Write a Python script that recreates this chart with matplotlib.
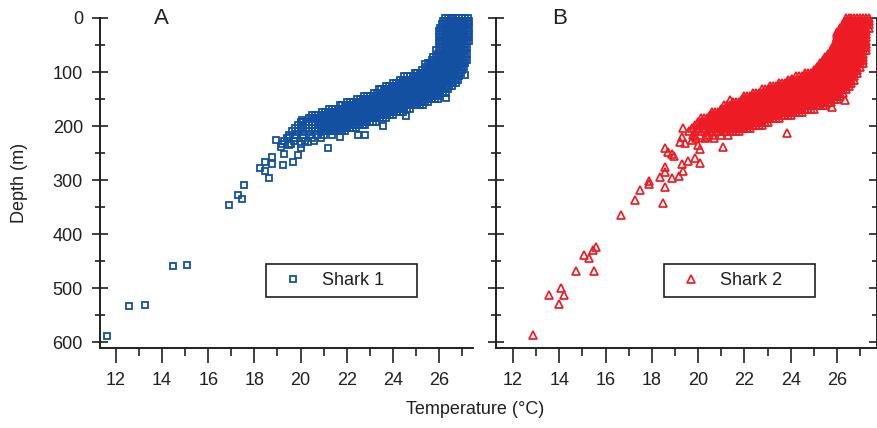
import matplotlib
matplotlib.use('Agg')
import matplotlib.pyplot as plt
from matplotlib.ticker import MultipleLocator

plt.rcParams['font.family'] = ['Liberation Sans', 'DejaVu Sans']

INK = '#231f20'
BLUE = '#1350a2'
RED = '#ed1c24'

# Shark 1, dense band: one row of temperatures for each depth
shark1_band_depth = [0, 6, 12, 18, 24, 30, 36, 42, 48, 54, 60, 66, 72, 78, 84, 90,
                     96, 102, 108, 114, 120, 126, 132, 138, 144, 150, 156, 162,
                     168, 174, 180, 186, 192, 198, 204, 210, 216, 222, 228, 234]
shark1_band_temp = [
    [26.25, 26.38, 26.5, 26.62, 26.75, 26.88, 27.0, 27.12, 27.25],
    [26.19, 26.31, 26.44, 26.56, 26.69, 26.81, 26.94, 27.06, 27.19, 27.31],
    [26.12, 26.25, 26.38, 26.5, 26.62, 26.75, 26.88, 27.0, 27.12, 27.25],
    [26.06, 26.19, 26.31, 26.44, 26.56, 26.69, 26.81, 26.94, 27.06, 27.19, 27.31],
    [26.0, 26.12, 26.25, 26.38, 26.5, 26.62, 26.75, 26.88, 27.0, 27.12, 27.25],
    [26.06, 26.19, 26.31, 26.44, 26.56, 26.69, 26.81, 26.94, 27.06, 27.19, 27.31],
    [26.0, 26.12, 26.25, 26.38, 26.5, 26.62, 26.75, 26.88, 27.0, 27.12, 27.25],
    [26.06, 26.19, 26.31, 26.44, 26.56, 26.69, 26.81, 26.94, 27.06, 27.19, 27.31],
    [26.0, 26.12, 26.25, 26.38, 26.5, 26.62, 26.75, 26.88, 27.0, 27.12],
    [26.06, 26.19, 26.31, 26.44, 26.56, 26.69, 26.81, 26.94, 27.06, 27.19],
    [25.88, 26.0, 26.12, 26.25, 26.38, 26.5, 26.62, 26.75, 26.88, 27.0, 27.12],
    [25.94, 26.06, 26.19, 26.31, 26.44, 26.56, 26.69, 26.81, 26.94, 27.06, 27.19],
    [25.75, 25.88, 26.0, 26.12, 26.25, 26.38, 26.5, 26.62, 26.75, 26.88, 27.0, 27.12],
    [25.69, 25.81, 25.94, 26.06, 26.19, 26.31, 26.44, 26.56, 26.69, 26.81, 26.94, 27.06,
     27.19],
    [25.5, 25.62, 25.75, 25.88, 26.0, 26.12, 26.25, 26.38, 26.5, 26.62, 26.75, 26.88, 27.0,
     27.12],
    [25.44, 25.56, 25.69, 25.81, 25.94, 26.06, 26.19, 26.31, 26.44, 26.56, 26.69, 26.81,
     26.94, 27.06],
    [25.25, 25.38, 25.5, 25.62, 25.75, 25.88, 26.0, 26.12, 26.25, 26.38, 26.5, 26.62, 26.75,
     26.88, 27.0],
    [24.94, 25.06, 25.19, 25.31, 25.44, 25.56, 25.69, 25.81, 25.94, 26.06, 26.19, 26.31,
     26.44, 26.56, 26.69, 26.81, 26.94],
    [24.5, 24.62, 24.75, 24.88, 25.0, 25.12, 25.25, 25.38, 25.5, 25.62, 25.75, 25.88, 26.0,
     26.12, 26.25, 26.38, 26.5, 26.62, 26.75, 26.88],
    [24.31, 24.44, 24.56, 24.69, 24.81, 24.94, 25.06, 25.19, 25.31, 25.44, 25.56, 25.69,
     25.81, 25.94, 26.06, 26.19, 26.31, 26.44, 26.56, 26.69, 26.81],
    [24.0, 24.12, 24.25, 24.38, 24.5, 24.62, 24.75, 24.88, 25.0, 25.12, 25.25, 25.38, 25.5,
     25.62, 25.75, 25.88, 26.0, 26.12, 26.25, 26.38, 26.5, 26.62, 26.75],
    [23.69, 23.81, 23.94, 24.06, 24.19, 24.31, 24.44, 24.56, 24.69, 24.81, 24.94, 25.06,
     25.19, 25.31, 25.44, 25.56, 25.69, 25.81, 25.94, 26.06, 26.19, 26.31, 26.44, 26.56],
    [23.38, 23.5, 23.62, 23.75, 23.88, 24.0, 24.12, 24.25, 24.38, 24.5, 24.62, 24.75, 24.88,
     25.0, 25.12, 25.25, 25.38, 25.5, 25.62, 25.75, 25.88, 26.0, 26.12, 26.25, 26.38],
    [23.19, 23.31, 23.44, 23.56, 23.69, 23.81, 23.94, 24.06, 24.19, 24.31, 24.44, 24.56,
     24.69, 24.81, 24.94, 25.06, 25.19, 25.31, 25.44, 25.56, 25.69, 25.81, 25.94, 26.06,
     26.19, 26.31],
    [22.75, 22.88, 23.0, 23.12, 23.25, 23.38, 23.5, 23.62, 23.75, 23.88, 24.0, 24.12, 24.25,
     24.38, 24.5, 24.62, 24.75, 24.88, 25.0, 25.12, 25.25, 25.38, 25.5, 25.62, 25.75, 25.88,
     26.0],
    [22.44, 22.56, 22.69, 22.81, 22.94, 23.06, 23.19, 23.31, 23.44, 23.56, 23.69, 23.81,
     23.94, 24.06, 24.19, 24.31, 24.44, 24.56, 24.69, 24.81, 24.94, 25.06, 25.19, 25.31,
     25.44, 25.56, 25.69, 25.81, 25.94],
    [22.0, 22.12, 22.25, 22.38, 22.5, 22.62, 22.75, 22.88, 23.0, 23.12, 23.25, 23.38, 23.5,
     23.62, 23.75, 23.88, 24.0, 24.12, 24.25, 24.38, 24.5, 24.62, 24.75, 24.88, 25.0, 25.12,
     25.25, 25.38, 25.5],
    [21.69, 21.81, 21.94, 22.06, 22.19, 22.31, 22.44, 22.56, 22.69, 22.81, 22.94, 23.06,
     23.19, 23.31, 23.44, 23.56, 23.69, 23.81, 23.94, 24.06, 24.19, 24.31, 24.44, 24.56,
     24.69, 24.81, 24.94, 25.06, 25.19, 25.31],
    [21.25, 21.38, 21.5, 21.62, 21.75, 21.88, 22.0, 22.12, 22.25, 22.38, 22.5, 22.62, 22.75,
     22.88, 23.0, 23.12, 23.25, 23.38, 23.5, 23.62, 23.75, 23.88, 24.0, 24.12, 24.25, 24.38,
     24.5, 24.62, 24.75],
    [20.94, 21.06, 21.19, 21.31, 21.44, 21.56, 21.69, 21.81, 21.94, 22.06, 22.19, 22.31,
     22.44, 22.56, 22.69, 22.81, 22.94, 23.06, 23.19, 23.31, 23.44, 23.56, 23.69, 23.81,
     23.94, 24.06, 24.19, 24.31, 24.44],
    [20.5, 20.62, 20.75, 20.88, 21.0, 21.12, 21.25, 21.38, 21.5, 21.62, 21.75, 21.88, 22.0,
     22.12, 22.25, 22.38, 22.5, 22.62, 22.75, 22.88, 23.0, 23.12, 23.25, 23.38, 23.5, 23.62,
     23.75, 23.88, 24.0],
    [20.44, 20.56, 20.69, 20.81, 20.94, 21.06, 21.19, 21.31, 21.44, 21.56, 21.69, 21.81,
     21.94, 22.06, 22.19, 22.31, 22.44, 22.56, 22.69, 22.81, 22.94, 23.06, 23.19, 23.31,
     23.44, 23.56, 23.69],
    [20.0, 20.12, 20.25, 20.38, 20.5, 20.62, 20.75, 20.88, 21.0, 21.12, 21.25, 21.38, 21.5,
     21.62, 21.75, 21.88, 22.0, 22.12, 22.25, 22.38, 22.5, 22.62, 22.75, 22.88, 23.0, 23.12,
     23.25],
    [19.88, 20.12, 20.38, 20.62, 20.81, 20.94, 21.06, 21.19, 21.31, 21.44, 21.56, 21.69,
     21.81, 21.94, 22.06, 22.19, 22.31, 22.44, 22.56, 22.69, 22.81],
    [19.75, 20.0, 20.25, 20.5, 20.75, 20.88, 21.0, 21.12, 21.25, 21.38, 21.5, 21.62, 21.75,
     21.88, 22.0, 22.12, 22.25, 22.38],
    [19.62, 19.88, 20.12, 20.38, 20.62, 20.94, 21.06, 21.19, 21.31, 21.44, 21.56, 21.69,
     21.81, 21.94],
    [19.5, 19.8, 20.1, 20.4, 20.7, 21.0, 21.35],
    [19.4, 19.75, 20.1, 20.5, 20.9],
    [19.3, 19.7, 20.2, 20.6],
    [19.2, 19.6, 20.0],
]
# Shark 1, scattered points
shark1_temp = [11.6, 12.57, 13.28, 14.47, 15.07, 16.88, 17.28, 17.47, 17.57, 18.26,
               18.48, 18.48, 18.65, 18.77, 18.77, 18.94, 19.14, 19.24, 19.5, 19.66,
               19.87, 19.28, 20.06, 20.38, 21.2, 22.5, 22.8, 23.55, 24.56, 25.4,
               27.13, 26.3, 21.7, 20.3, 20.0, 19.5]
shark1_depth = [589, 533, 531, 459, 457, 347, 328, 336, 310, 277,
                267, 283, 296, 258, 271, 226, 238, 272, 220, 266,
                254, 251, 189, 186, 241, 217, 217, 200, 181, 85,
                106, 149, 220, 230, 240, 236]

# Shark 2, dense band
shark2_band_depth = [0, 6, 12, 18, 24, 30, 36, 42, 48, 54, 60, 66, 72, 78, 84, 90,
                     96, 102, 108, 114, 120, 126, 132, 138, 144, 150, 156, 162,
                     168, 174, 180, 186, 192, 198, 204, 210, 216, 222]
shark2_band_temp = [
    [26.38, 26.5, 26.62, 26.75, 26.88, 27.0, 27.12, 27.25, 27.38],
    [26.38, 26.5, 26.62, 26.75, 26.88, 27.0, 27.12, 27.25, 27.38],
    [26.25, 26.38, 26.5, 26.62, 26.75, 26.88, 27.0, 27.12, 27.25, 27.38],
    [26.12, 26.25, 26.38, 26.5, 26.62, 26.75, 26.88, 27.0, 27.12, 27.25, 27.38],
    [26.12, 26.25, 26.38, 26.5, 26.62, 26.75, 26.88, 27.0, 27.12, 27.25],
    [26.0, 26.12, 26.25, 26.38, 26.5, 26.62, 26.75, 26.88, 27.0, 27.12, 27.25],
    [26.0, 26.12, 26.25, 26.38, 26.5, 26.62, 26.75, 26.88, 27.0, 27.12, 27.25],
    [26.0, 26.12, 26.25, 26.38, 26.5, 26.62, 26.75, 26.88, 27.0, 27.12, 27.25],
    [25.88, 26.0, 26.12, 26.25, 26.38, 26.5, 26.62, 26.75, 26.88, 27.0, 27.12, 27.25],
    [25.88, 26.0, 26.12, 26.25, 26.38, 26.5, 26.62, 26.75, 26.88, 27.0, 27.12, 27.25],
    [25.75, 25.88, 26.0, 26.12, 26.25, 26.38, 26.5, 26.62, 26.75, 26.88, 27.0, 27.12, 27.25],
    [25.62, 25.75, 25.88, 26.0, 26.12, 26.25, 26.38, 26.5, 26.62, 26.75, 26.88, 27.0, 27.12],
    [25.5, 25.62, 25.75, 25.88, 26.0, 26.12, 26.25, 26.38, 26.5, 26.62, 26.75, 26.88, 27.0,
     27.12],
    [25.38, 25.5, 25.62, 25.75, 25.88, 26.0, 26.12, 26.25, 26.38, 26.5, 26.62, 26.75, 26.88,
     27.0, 27.12],
    [25.25, 25.38, 25.5, 25.62, 25.75, 25.88, 26.0, 26.12, 26.25, 26.38, 26.5, 26.62, 26.75,
     26.88, 27.0, 27.12],
    [25.12, 25.25, 25.38, 25.5, 25.62, 25.75, 25.88, 26.0, 26.12, 26.25, 26.38, 26.5, 26.62,
     26.75, 26.88, 27.0],
    [25.0, 25.12, 25.25, 25.38, 25.5, 25.62, 25.75, 25.88, 26.0, 26.12, 26.25, 26.38, 26.5,
     26.62, 26.75, 26.88],
    [24.62, 24.75, 24.88, 25.0, 25.12, 25.25, 25.38, 25.5, 25.62, 25.75, 25.88, 26.0, 26.12,
     26.25, 26.38, 26.5, 26.62, 26.75, 26.88],
    [24.25, 24.38, 24.5, 24.62, 24.75, 24.88, 25.0, 25.12, 25.25, 25.38, 25.5, 25.62, 25.75,
     25.88, 26.0, 26.12, 26.25, 26.38, 26.5, 26.62, 26.75],
    [23.88, 24.0, 24.12, 24.25, 24.38, 24.5, 24.62, 24.75, 24.88, 25.0, 25.12, 25.25, 25.38,
     25.5, 25.62, 25.75, 25.88, 26.0, 26.12, 26.25, 26.38, 26.5, 26.62, 26.75],
    [23.5, 23.62, 23.75, 23.88, 24.0, 24.12, 24.25, 24.38, 24.5, 24.62, 24.75, 24.88, 25.0,
     25.12, 25.25, 25.38, 25.5, 25.62, 25.75, 25.88, 26.0, 26.12, 26.25, 26.38, 26.5, 26.62],
    [23.12, 23.25, 23.38, 23.5, 23.62, 23.75, 23.88, 24.0, 24.12, 24.25, 24.38, 24.5, 24.62,
     24.75, 24.88, 25.0, 25.12, 25.25, 25.38, 25.5, 25.62, 25.75, 25.88, 26.0, 26.12, 26.25,
     26.38, 26.5],
    [22.75, 22.88, 23.0, 23.12, 23.25, 23.38, 23.5, 23.62, 23.75, 23.88, 24.0, 24.12, 24.25,
     24.38, 24.5, 24.62, 24.75, 24.88, 25.0, 25.12, 25.25, 25.38, 25.5, 25.62, 25.75, 25.88,
     26.0, 26.12, 26.25, 26.38],
    [22.38, 22.5, 22.62, 22.75, 22.88, 23.0, 23.12, 23.25, 23.38, 23.5, 23.62, 23.75, 23.88,
     24.0, 24.12, 24.25, 24.38, 24.5, 24.62, 24.75, 24.88, 25.0, 25.12, 25.25, 25.38, 25.5,
     25.62, 25.75, 25.88, 26.0, 26.12, 26.25],
    [22.0, 22.12, 22.25, 22.38, 22.5, 22.62, 22.75, 22.88, 23.0, 23.12, 23.25, 23.38, 23.5,
     23.62, 23.75, 23.88, 24.0, 24.12, 24.25, 24.38, 24.5, 24.62, 24.75, 24.88, 25.0, 25.12,
     25.25, 25.38, 25.5, 25.62, 25.75, 25.88, 26.0, 26.12],
    [21.88, 22.0, 22.12, 22.25, 22.38, 22.5, 22.62, 22.75, 22.88, 23.0, 23.12, 23.25, 23.38,
     23.5, 23.62, 23.75, 23.88, 24.0, 24.12, 24.25, 24.38, 24.5, 24.62, 24.75, 24.88, 25.0,
     25.12, 25.25, 25.38, 25.5, 25.62, 25.75, 25.88, 26.0],
    [21.5, 21.62, 21.75, 21.88, 22.0, 22.12, 22.25, 22.38, 22.5, 22.62, 22.75, 22.88, 23.0,
     23.12, 23.25, 23.38, 23.5, 23.62, 23.75, 23.88, 24.0, 24.12, 24.25, 24.38, 24.5, 24.62,
     24.75, 24.88, 25.0, 25.12, 25.25, 25.38, 25.5, 25.62, 25.75],
    [21.12, 21.25, 21.38, 21.5, 21.62, 21.75, 21.88, 22.0, 22.12, 22.25, 22.38, 22.5, 22.62,
     22.75, 22.88, 23.0, 23.12, 23.25, 23.38, 23.5, 23.62, 23.75, 23.88, 24.0, 24.12, 24.25,
     24.38, 24.5, 24.62, 24.75, 24.88, 25.0, 25.12, 25.25, 25.38, 25.5],
    [21.0, 21.12, 21.25, 21.38, 21.5, 21.62, 21.75, 21.88, 22.0, 22.12, 22.25, 22.38, 22.5,
     22.62, 22.75, 22.88, 23.0, 23.12, 23.25, 23.38, 23.5, 23.62, 23.75, 23.88, 24.0, 24.12,
     24.25, 24.38, 24.5, 24.62, 24.75, 24.88, 25.0],
    [20.62, 20.75, 20.88, 21.0, 21.12, 21.25, 21.38, 21.5, 21.62, 21.75, 21.88, 22.0, 22.12,
     22.25, 22.38, 22.5, 22.62, 22.75, 22.88, 23.0, 23.12, 23.25, 23.38, 23.5, 23.62, 23.75,
     23.88, 24.0, 24.12, 24.25, 24.38, 24.5],
    [20.5, 20.62, 20.75, 20.88, 21.0, 21.12, 21.25, 21.38, 21.5, 21.62, 21.75, 21.88, 22.0,
     22.12, 22.25, 22.38, 22.5, 22.62, 22.75, 22.88, 23.0, 23.12, 23.25, 23.38, 23.5, 23.62,
     23.75, 23.88, 24.0],
    [20.12, 20.25, 20.38, 20.5, 20.62, 20.75, 20.88, 21.0, 21.12, 21.25, 21.38, 21.5, 21.62,
     21.75, 21.88, 22.0, 22.12, 22.25, 22.38, 22.5, 22.62, 22.75, 22.88, 23.0, 23.12, 23.25,
     23.38, 23.5],
    [20.0, 20.12, 20.25, 20.38, 20.5, 20.62, 20.75, 20.88, 21.0, 21.12, 21.25, 21.38, 21.5,
     21.62, 21.75, 21.88, 22.0, 22.12, 22.25, 22.38, 22.5, 22.62, 22.75, 22.88, 23.0],
    [19.88, 20.12, 20.38, 20.62, 20.75, 20.88, 21.0, 21.12, 21.25, 21.38, 21.5, 21.62, 21.75,
     21.88, 22.0, 22.12, 22.25, 22.38, 22.5, 22.62, 22.75],
    [19.75, 20.0, 20.25, 20.5, 20.75, 20.88, 21.0, 21.12, 21.25, 21.38, 21.5, 21.62, 21.75,
     21.88, 22.0, 22.12, 22.25],
    [19.62, 19.88, 20.12, 20.38, 20.62, 20.88, 21.0, 21.12, 21.25, 21.38, 21.5, 21.62, 21.75],
    [19.8, 20.1, 20.4, 20.7, 21.0, 21.3],
    [19.9, 20.3, 20.7],
]
# Shark 2, scattered points
shark2_temp = [12.88, 13.57, 13.99, 14.07, 14.2, 14.71, 15.07, 15.27, 15.47, 15.59,
               15.49, 16.68, 17.27, 18.47, 17.49, 17.89, 17.89, 18.58, 18.35, 18.57,
               18.57, 18.85, 19.18, 19.36, 19.29, 19.57, 19.86, 20.08, 18.57, 18.71,
               18.86, 18.95, 19.36, 19.29, 19.43, 19.2, 19.72, 19.86, 20.0, 20.08,
               20.29, 20.3, 20.39, 21.37, 23.85, 25.77, 26.34, 21.06, 24.04, 20.9,
               21.25, 22.05, 25.98, 25.98, 25.98]
shark2_depth = [587, 512, 530, 499, 513, 469, 438, 444, 430, 424,
                469, 365, 337, 343, 318, 302, 307, 312, 294, 275,
                285, 296, 293, 283, 270, 265, 260, 269, 241, 249,
                252, 255, 204, 220, 232, 229, 226, 218, 235, 243,
                195, 204, 220, 152, 212, 164, 151, 238, 113, 186,
                170, 163, 25, 35, 46]

y_major = [0, 100, 200, 300, 400, 500, 600]
x_major = [12, 14, 16, 18, 20, 22, 24, 26]


def flatten(band_depth, band_temp, temp, depth):
    t = []
    d = []
    for row_depth, row in zip(band_depth, band_temp):
        for x in row:
            t.append(x)
            d.append(row_depth)
    return t + temp, d + depth


def style_axes(ax, xlim, show_ylabels):
    ax.set_xlim(xlim)
    ax.set_ylim(611, 0)
    ax.set_xticks(x_major)
    ax.set_yticks(y_major)
    ax.xaxis.set_minor_locator(MultipleLocator(1))
    ax.yaxis.set_minor_locator(MultipleLocator(50))
    ax.spines['top'].set_visible(False)
    for s in ax.spines.values():
        s.set_linewidth(1.4)
        s.set_color(INK)
    ax.tick_params(axis='x', which='major', direction='out', length=11, width=1.2,
                   colors=INK, labelsize=13, pad=6.5)
    ax.tick_params(axis='x', which='minor', direction='out', length=5.5, width=1.2,
                   colors=INK)
    ax.tick_params(axis='y', which='major', direction='inout', length=11.5, width=1.2,
                   colors=INK, labelsize=13, pad=6.5, labelleft=show_ylabels)
    ax.tick_params(axis='y', which='minor', direction='inout', length=6.5, width=1.2,
                   colors=INK)
    ax.patch.set_visible(False)


fig = plt.figure(figsize=(8.78, 4.28), dpi=100)
ax1 = fig.add_axes([100 / 878, 80 / 428, 373 / 878, 330 / 428])
ax2 = fig.add_axes([496 / 878, 80 / 428, 381 / 878, 330 / 428])

t1, d1 = flatten(shark1_band_depth, shark1_band_temp, shark1_temp, shark1_depth)
t2, d2 = flatten(shark2_band_depth, shark2_band_temp, shark2_temp, shark2_depth)

ax1.plot(t1, d1, linestyle='none', marker='s', ms=3.8, mew=1.3, mfc='none',
         mec=BLUE, clip_on=False, label='Shark 1')
ax2.plot(t2, d2, linestyle='none', marker='^', ms=5.5, mew=1.25, mfc='none',
         mec=RED, clip_on=False, label='Shark 2')

style_axes(ax1, (11.31, 27.47), True)
ax1.spines['right'].set_visible(False)
style_axes(ax2, (11.265, 27.73), False)
ax2.tick_params(axis='y', which='both', right=True)

for ax, box in [(ax1, (0.445, 0.1545, 0.405, 0.1)), (ax2, (0.441, 0.1545, 0.396, 0.1))]:
    leg = ax.legend(loc='center', bbox_to_anchor=box, mode='expand', fontsize=13,
                    fancybox=False, framealpha=1, edgecolor=INK, borderpad=0.45,
                    handlelength=2.1, handletextpad=0.55, numpoints=1,
                    borderaxespad=0)
    leg.get_frame().set_linewidth(1.2)
    for txt in leg.get_texts():
        txt.set_color(INK)

fig.text(161 / 878, 1 - 18 / 428, 'A', ha='center', va='center', fontsize=16, color=INK)
fig.text(560 / 878, 1 - 18 / 428, 'B', ha='center', va='center', fontsize=16, color=INK)
fig.text(475 / 878, 1 - 410 / 428, 'Temperature (°C)', ha='center', va='center',
         fontsize=13, color=INK)
fig.text(20 / 878, 1 - 183 / 428, 'Depth (m)', ha='center', va='center', rotation=90,
         fontsize=13, color=INK)

fig.savefig('out.png', dpi=100)
